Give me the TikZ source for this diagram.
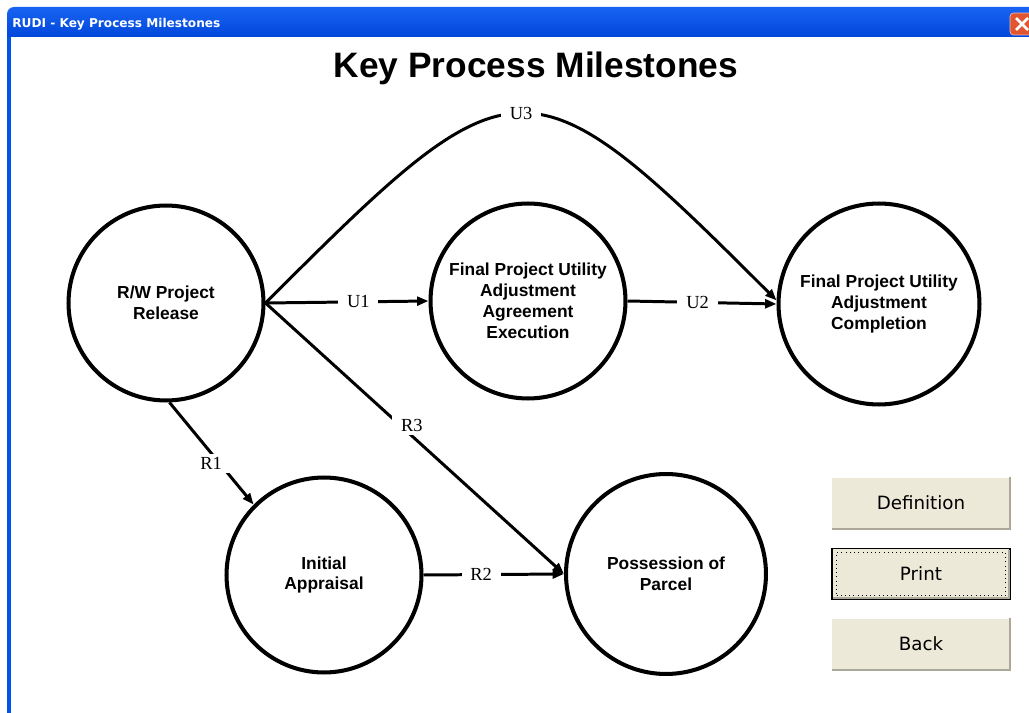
\documentclass[tikz,border=0pt]{standalone}
\usepackage{fontspec}
\setmainfont{Liberation Serif}
\newfontfamily\arialfont{Liberation Sans}
\newfontfamily\tahomafont{DejaVu Sans}
\usetikzlibrary{arrows.meta}

\definecolor{xpblue}{RGB}{0,84,232}
\definecolor{xplight}{RGB}{25,100,242}
\definecolor{xpdeep}{RGB}{0,70,218}
\definecolor{btnface}{RGB}{236,233,216}
\definecolor{btnshadow}{RGB}{172,168,153}
\definecolor{closered}{RGB}{224,86,48}

\begin{document}
\begin{tikzpicture}[x=0.02cm, y=-0.02cm, >={Triangle[length=6.5pt, width=5pt]},
	milestone/.style={circle, draw, line width=2.3pt, minimum size=3.9cm, inner sep=1pt, align=center, font=\arialfont\bfseries\fontsize{9.9}{11.9}\selectfont},
	link/.style={->, line width=1.7pt},
	code/.style={fill=white, inner xsep=5pt, inner ysep=2pt, font=\fontsize{10.5}{12}\selectfont},
	button/.style={fill=btnface, minimum width=3.56cm, minimum height=1.02cm, inner sep=0, font=\tahomafont\fontsize{10.4}{12}\selectfont}]
	\useasboundingbox (0,0) rectangle (1029,713);
	\clip (0,0) rectangle (1029,713);
	\fill[white] (0,0) rectangle (1029,713);

	% window frame
	\shade[top color=xplight, middle color=xpblue, bottom color=xpdeep] (7,37) [rounded corners=4pt] -- (7,7) [sharp corners] -- (1040,7) -- (1040,37) -- cycle;
	\fill[xpblue] (7,37) rectangle (11,713);
	\node[anchor=west, text=white, inner sep=0, font=\tahomafont\bfseries\fontsize{6.9}{8}\selectfont] (caption) at (12,24) {RUDI - Key Process Milestones};
	\node[fill=closered, draw=white!60!closered, rounded corners=2pt, minimum width=0.48cm, minimum height=0.44cm] (closex) at (1022,24) {};
	\draw[white, line width=1.6pt] ([shift={(-6,-6)}]closex.center) -- ([shift={(6,6)}]closex.center);
	\draw[white, line width=1.6pt] ([shift={(-6,6)}]closex.center) -- ([shift={(6,-6)}]closex.center);

	\node[font=\arialfont\bfseries\fontsize{20.1}{24}\selectfont] (title) at (536,68) {Key Process Milestones};

	% milestones
	\node[milestone] (rw) at (166,303) {R/W Project\\Release};
	\node[milestone] (ag) at (528,301) {Final Project Utility\\Adjustment\\Agreement\\Execution};
	\node[milestone, minimum size=4.02cm] (fc) at (879,304) {Final Project Utility\\Adjustment\\Completion};
	\node[milestone] (ia) at (324,575) {Initial\\Appraisal};
	\node[milestone, minimum size=4cm] (pp) at (666,574) {Possession of\\Parcel};

	% U and R links
	\draw[link] (rw.east) -- node[code, pos=0.57] {U1} (ag.west);
	\draw[link] (ag.east) -- node[code, pos=0.47] {U2} (fc.west);
	\draw[link] (rw.east) to[out=45, in=135, looseness=1.77] node[code, pos=0.5] {U3} (fc.178);
	\draw[link] (rw.-88) -- node[code, pos=0.6, xshift=-5pt] {R1} (ia.135);
	\draw[link] (ia.east) -- node[code, pos=0.41] {R2} (pp.west);
	\draw[link] (rw.east) -- node[code, pos=0.49, yshift=6pt] {R3} (pp.west);

	% buttons
	\node[button] (def) at (921,503) {Definition};
	\draw[btnshadow, line width=1.1pt] (def.south west) -- (def.south east) -- (def.north east);
	\node[button, draw=black, line width=0.7pt] (prn) at (921,574) {Print};
	\draw[btnshadow, line width=1.1pt] ([shift={(2,-2)}]prn.south west) -- ([shift={(-2,-2)}]prn.south east) -- ([shift={(-2,2)}]prn.north east);
	\node[draw=black, dotted, line width=0.4pt, minimum width=3.38cm, minimum height=0.86cm, inner sep=0] (prnfocus) at (prn.center) {};
	\node[button] (back) at (921,644) {Back};
	\draw[btnshadow, line width=1.1pt] (back.south west) -- (back.south east) -- (back.north east);
\end{tikzpicture}
\end{document}
